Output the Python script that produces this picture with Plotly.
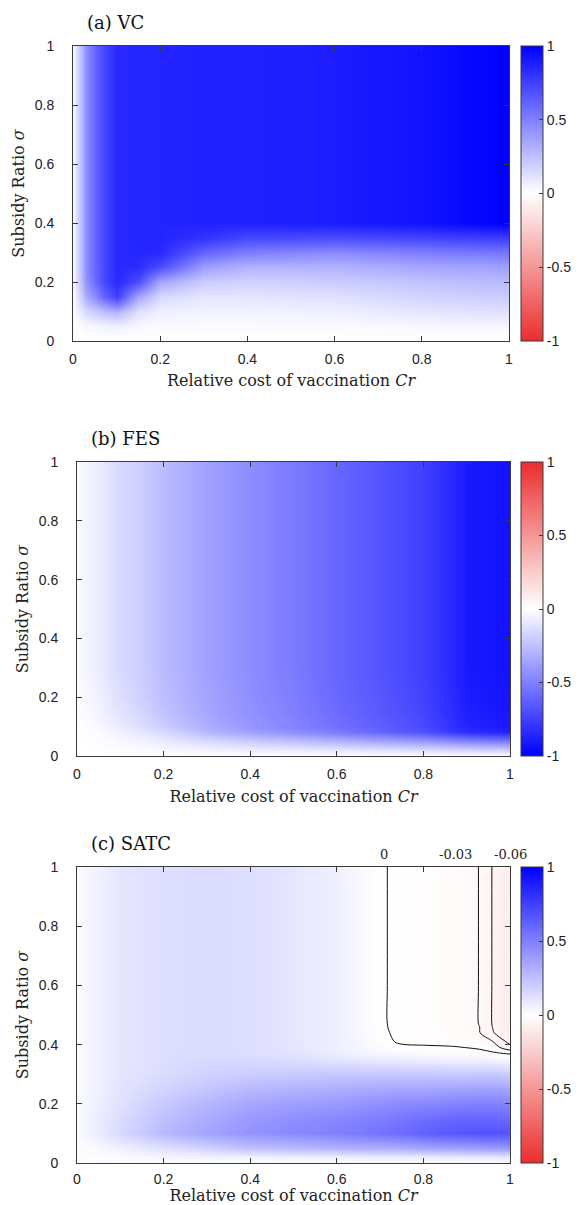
import plotly.graph_objects as go

W, H = 584, 1205

# ---------------- data ----------------
# (a) VC
x_vc = [0, 0.01, 0.02, 0.03, 0.05, 0.07, 0.1, 0.15, 0.2, 0.3, 0.4, 0.6, 0.8, 0.9, 1.0]
y_vc = [0, 0.05, 0.1, 0.15, 0.2, 0.25, 0.3, 0.35, 0.4, 0.7, 1.0]
z_vc = [
    [0, 0, 0, 0, 0, 0, 0, 0, 0, 0, 0, 0, 0, 0, 0],
    [0, 0.01, 0.02, 0.03, 0.04, 0.05, 0.06, 0.03, 0.02, 0.02, 0.02, 0.02, 0.03, 0.04, 0.04],
    [0.01, 0.06, 0.1, 0.15, 0.2, 0.25, 0.3, 0.12, 0.06, 0.05, 0.05, 0.06, 0.1, 0.11, 0.12],
    [0.02, 0.11, 0.22, 0.33, 0.45, 0.6, 0.75, 0.35, 0.15, 0.1, 0.1, 0.12, 0.17, 0.19, 0.2],
    [0.03, 0.14, 0.28, 0.43, 0.58, 0.72, 0.84, 0.7, 0.35, 0.2, 0.18, 0.2, 0.24, 0.26, 0.27],
    [0.03, 0.15, 0.3, 0.45, 0.6, 0.72, 0.84, 0.83, 0.7, 0.38, 0.3, 0.3, 0.35, 0.36, 0.37],
    [0.03, 0.15, 0.3, 0.45, 0.6, 0.72, 0.84, 0.85, 0.84, 0.6, 0.5, 0.45, 0.5, 0.52, 0.53],
    [0.03, 0.15, 0.3, 0.45, 0.6, 0.72, 0.84, 0.86, 0.86, 0.8, 0.72, 0.7, 0.73, 0.75, 0.76],
    [0.03, 0.15, 0.3, 0.45, 0.6, 0.72, 0.84, 0.86, 0.86, 0.87, 0.87, 0.89, 0.93, 0.97, 1.0],
    [0.03, 0.15, 0.3, 0.45, 0.6, 0.72, 0.84, 0.86, 0.86, 0.87, 0.87, 0.89, 0.93, 0.97, 1.0],
    [0.03, 0.15, 0.3, 0.45, 0.6, 0.72, 0.84, 0.86, 0.86, 0.87, 0.87, 0.89, 0.93, 0.97, 1.0],
]

# (b) FES
x_fes = [0, 0.05, 0.1, 0.15, 0.2, 0.3, 0.4, 0.5, 0.6, 0.7, 0.8, 0.85, 0.9, 1.0]
y_fes = [0, 0.02, 0.05, 0.08, 0.1, 0.15, 0.2, 0.3, 1.0]
z_fes = [
    [0, 0, 0, 0, 0, 0, 0, 0, 0, 0, 0, 0, 0, 0],
    [0, 0, -0.01, -0.02, -0.03, -0.05, -0.07, -0.08, -0.1, -0.12, -0.14, -0.15, -0.17, -0.18],
    [0, -0.01, -0.03, -0.05, -0.08, -0.15, -0.2, -0.25, -0.3, -0.35, -0.4, -0.44, -0.48, -0.52],
    [0, -0.02, -0.06, -0.1, -0.15, -0.28, -0.37, -0.44, -0.52, -0.6, -0.68, -0.75, -0.82, -0.86],
    [0, -0.03, -0.08, -0.13, -0.2, -0.32, -0.41, -0.48, -0.56, -0.63, -0.71, -0.78, -0.86, -0.9],
    [-0.01, -0.05, -0.11, -0.17, -0.24, -0.35, -0.43, -0.5, -0.58, -0.65, -0.73, -0.8, -0.88, -0.91],
    [-0.01, -0.06, -0.13, -0.19, -0.26, -0.36, -0.44, -0.51, -0.59, -0.66, -0.74, -0.81, -0.89, -0.92],
    [-0.02, -0.08, -0.15, -0.2, -0.27, -0.37, -0.45, -0.52, -0.6, -0.67, -0.75, -0.82, -0.9, -0.93],
    [-0.02, -0.08, -0.15, -0.2, -0.27, -0.37, -0.45, -0.52, -0.6, -0.67, -0.75, -0.82, -0.9, -0.93],
]

# (c) SATC
x_satc = [0, 0.05, 0.1, 0.2, 0.3, 0.4, 0.5, 0.6, 0.65, 0.7, 0.75, 0.8, 0.87, 0.93, 0.96, 1.0]
y_satc = [0, 0.02, 0.05, 0.1, 0.15, 0.2, 0.25, 0.3, 0.35, 0.37, 0.39, 0.41, 0.44, 0.47, 0.6, 1.0]
z_satc = [
    [0.005, 0.005, 0.005, 0.005, 0.005, 0.005, 0.005, 0.005, 0.005, 0.005, 0.005, 0.005, 0.005, 0.005, 0.005, 0.005],
    [0.005, 0.01, 0.02, 0.04, 0.05, 0.05, 0.06, 0.06, 0.07, 0.07, 0.07, 0.08, 0.08, 0.09, 0.09, 0.1],
    [0.01, 0.03, 0.06, 0.12, 0.18, 0.25, 0.27, 0.3, 0.31, 0.32, 0.33, 0.35, 0.37, 0.38, 0.39, 0.4],
    [0.02, 0.08, 0.15, 0.28, 0.36, 0.42, 0.46, 0.5, 0.52, 0.55, 0.58, 0.62, 0.66, 0.68, 0.68, 0.67],
    [0.02, 0.08, 0.14, 0.25, 0.33, 0.4, 0.44, 0.47, 0.49, 0.51, 0.54, 0.57, 0.6, 0.6, 0.6, 0.58],
    [0.02, 0.07, 0.12, 0.22, 0.29, 0.35, 0.38, 0.4, 0.42, 0.44, 0.46, 0.47, 0.49, 0.5, 0.5, 0.48],
    [0.02, 0.06, 0.11, 0.17, 0.23, 0.28, 0.3, 0.32, 0.33, 0.34, 0.35, 0.35, 0.36, 0.37, 0.37, 0.35],
    [0.02, 0.06, 0.1, 0.14, 0.18, 0.2, 0.21, 0.22, 0.22, 0.22, 0.22, 0.22, 0.22, 0.22, 0.22, 0.2],
    [0.02, 0.06, 0.1, 0.13, 0.15, 0.15, 0.13, 0.1, 0.09, 0.08, 0.07, 0.06, 0.05, 0.05, 0.04, 0.03],
    [0.02, 0.06, 0.1, 0.13, 0.14, 0.13, 0.11, 0.07, 0.05, 0.03, 0.025, 0.02, 0.015, 0.01, 0.005, -0.003],
    [0.02, 0.06, 0.1, 0.13, 0.14, 0.13, 0.1, 0.065, 0.04, 0.015, 0.004, 0.004, 0.003, -0.004, -0.015, -0.05],
    [0.02, 0.06, 0.1, 0.13, 0.14, 0.13, 0.1, 0.06, 0.035, 0.006, -0.003, -0.006, -0.012, -0.022, -0.029, -0.07],
    [0.02, 0.06, 0.1, 0.13, 0.14, 0.13, 0.1, 0.06, 0.032, 0.004, -0.005, -0.011, -0.019, -0.029, -0.058, -0.08],
    [0.02, 0.06, 0.1, 0.13, 0.14, 0.13, 0.1, 0.06, 0.03, 0.003, -0.006, -0.012, -0.02, -0.0305, -0.062, -0.085],
    [0.02, 0.06, 0.1, 0.13, 0.14, 0.13, 0.1, 0.06, 0.03, 0.003, -0.006, -0.012, -0.02, -0.0305, -0.062, -0.085],
    [0.02, 0.06, 0.1, 0.13, 0.14, 0.13, 0.1, 0.06, 0.03, 0.003, -0.006, -0.012, -0.02, -0.0305, -0.062, -0.085],
]

contour_levels = [-0.06, -0.03, 0]
contour_label_text = ["0", "-0.03", "-0.06"]
contour_label_x = [0.71, 0.875, 1.0]

panel_titles = ["(a) VC", "(b) FES", "(c) SATC"]
axis_ticks = [0, 0.2, 0.4, 0.6, 0.8, 1]
axis_tick_text = ["0", "0.2", "0.4", "0.6", "0.8", "1"]
cbar_ticks = [-1, -0.5, 0, 0.5, 1]
cbar_tick_text = ["-1", "-0.5", "0", "0.5", "1"]

# ---------------- styling ----------------
RED = "rgb(235,45,45)"
BLUE = "rgb(0,0,255)"
scale_blue_top = [[0, RED], [0.5, "rgb(255,255,255)"], [1, BLUE]]
scale_red_top = [[0, BLUE], [0.5, "rgb(255,255,255)"], [1, RED]]

SANS = "Liberation Sans, Arial, sans-serif"
SERIF = "DejaVu Serif, serif"
FRAME = "#3a3a3a"

panels = [
    dict(x0=73, x1=509, y0=46, y1=341, tl_standoff=5, xt_standoff=9),
    dict(x0=77, x1=510, y0=462, y1=756, tl_standoff=5, xt_standoff=10),
    dict(x0=77, x1=510, y0=867, y1=1163, tl_standoff=3, xt_standoff=11),
]
CB_X0 = 521
CB_W = 22

datasets = [
    (x_vc, y_vc, z_vc, scale_blue_top),
    (x_fes, y_fes, z_fes, scale_red_top),
    (x_satc, y_satc, z_satc, scale_blue_top),
]

fig = go.Figure()
layout = dict(
    width=W, height=H,
    margin=dict(l=0, r=0, t=0, b=0),
    paper_bgcolor="white", plot_bgcolor="white",
    showlegend=False,
    annotations=[],
)

for i, (p, (xs, ys, zs, cs)) in enumerate(zip(panels, datasets)):
    n = i + 1
    xa = "x" if n == 1 else f"x{n}"
    ya = "y" if n == 1 else f"y{n}"
    fig.add_trace(go.Heatmap(
        x=xs, y=ys, z=zs, xaxis=xa, yaxis=ya,
        colorscale=cs, zmin=-1, zmax=1, zsmooth="best",
        hoverinfo="skip",
        colorbar=dict(
            x=CB_X0 / W, xanchor="left", xpad=0,
            y=1 - (p["y0"] + p["y1"]) / 2 / H, yanchor="middle", ypad=0,
            len=p["y1"] - p["y0"], lenmode="pixels",
            thickness=CB_W, thicknessmode="pixels",
            outlinewidth=1, outlinecolor=FRAME,
            tickmode="array", tickvals=cbar_ticks, ticktext=cbar_tick_text,
            ticks="inside", ticklen=4, tickcolor=FRAME,
            tickfont=dict(family=SANS, size=14, color="#222"),
        ),
    ))
    axis_common = dict(
        range=[0, 1], showgrid=False, zeroline=False, automargin=False,
        showline=True, linecolor=FRAME, linewidth=1, mirror="ticks",
        ticks="inside", ticklen=5, tickcolor=FRAME,
        tickmode="array", tickvals=axis_ticks, ticktext=axis_tick_text,
        tickfont=dict(family=SANS, size=14, color="#222"),
    )
    layout[f"xaxis{'' if n == 1 else n}"] = dict(
        axis_common, domain=[p["x0"] / W, p["x1"] / W], anchor=ya,
        ticklabelstandoff=p["tl_standoff"],
        title=dict(text="Relative cost of vaccination <i>Cr</i>",
                   font=dict(family=SERIF, size=16, color="#222"),
                   standoff=p["xt_standoff"]),
    )
    layout[f"yaxis{'' if n == 1 else n}"] = dict(
        axis_common, domain=[1 - p["y1"] / H, 1 - p["y0"] / H], anchor=xa,
        ticklabelstandoff=15,
        title=dict(text="Subsidy Ratio <i>σ</i>",
                   font=dict(family=SERIF, size=16, color="#222"),
                   standoff=6),
    )
    layout["annotations"].append(dict(
        text=panel_titles[i], xref="paper", yref="paper",
        x=(p["x0"] + 12) / W, y=1 - (p["y0"] - 24) / H,
        xanchor="left", yanchor="middle", showarrow=False,
        font=dict(family=SERIF, size=18, color="#111"),
    ))

# contour lines for (c)
fig.add_trace(go.Contour(
    x=x_satc, y=y_satc, z=z_satc, xaxis="x3", yaxis="y3",
    contours=dict(start=min(contour_levels), end=max(contour_levels),
                  size=0.03, coloring="none", showlabels=False),
    line=dict(color="#111", width=1, smoothing=1),
    showscale=False, hoverinfo="skip",
))
for txt, xv in zip(contour_label_text, contour_label_x):
    layout["annotations"].append(dict(
        text=txt, xref="x3", yref="y3", x=xv, y=1,
        xanchor="center", yanchor="bottom", yshift=3, showarrow=False,
        font=dict(family=SERIF, size=13, color="#222"),
    ))

fig.update_layout(**layout)
fig.write_html(
    "out.html",
    config={"displayModeBar": False},
    post_script="document.body.style.margin='0';document.body.style.padding='0';",
)
